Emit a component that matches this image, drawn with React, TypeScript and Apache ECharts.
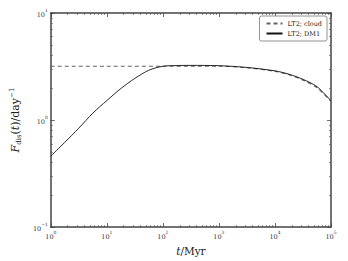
import React, { useEffect, useRef } from "react";
import * as echarts from "echarts";

const solidT = [1, 1.78, 3.16, 5.62, 10, 17.8, 31.6, 56.2, 100, 178, 316, 1000, 3162, 10000, 17783, 31623, 56234, 100000];
const solidF = [0.46, 0.62, 0.84, 1.16, 1.52, 1.97, 2.45, 2.92, 3.18, 3.23, 3.24, 3.22, 3.1, 2.88, 2.68, 2.4, 2.05, 1.51];
const dashedT = [1, 10, 100, 1000, 3162, 10000, 17783, 31623, 56234, 100000];
const dashedF = [3.18, 3.18, 3.18, 3.18, 3.08, 2.85, 2.65, 2.36, 2.0, 1.49];
const minorMult = [2, 3, 4, 5, 6, 7, 8, 9];
const xDecades = [0, 1, 2, 3, 4];
const yDecades = [-1, 0];
const minorX = xDecades.flatMap((d) => minorMult.map((m) => d + Math.log10(m)));
const minorY = yDecades.flatMap((d) => minorMult.map((m) => d + Math.log10(m)));

const FONT = "DejaVu Serif";
const AX = "#444";

const expFmt = (v: number) => {
  const e = Math.round(Math.log10(v));
  return `{b|10}{s|${e < 0 ? "−" + -e : e}}`;
};
const labelRich = {
  b: { fontFamily: FONT, fontSize: 6.5, color: "#333", lineHeight: 10, verticalAlign: "bottom" },
  s: { fontFamily: FONT, fontSize: 4.5, color: "#333", lineHeight: 10, verticalAlign: "top" },
};

export default function App() {
  const ref = useRef<HTMLDivElement>(null);
  useEffect(() => {
    const chart = echarts.init(ref.current!, null, { renderer: "svg" });
    const majorAxis = (extra: any) => ({
      type: "log",
      logBase: 10,
      axisLine: { show: true, onZero: false, lineStyle: { color: AX, width: 1.5 } },
      axisTick: { show: true, inside: true, length: 4, lineStyle: { color: AX, width: 0.8 } },
      splitLine: { show: false },
      ...extra,
    });
    const minorAxis = (vals: number[], extra: any) => ({
      type: "value",
      axisLine: { show: false, onZero: false },
      axisTick: { show: true, inside: true, length: 2, customValues: vals, lineStyle: { color: AX, width: 0.6 } },
      axisLabel: { show: false },
      splitLine: { show: false },
      ...extra,
    });
    chart.setOption({
      animation: false,
      grid: { left: 35, right: 17, top: 13, bottom: 27, containLabel: false },
      xAxis: [
        majorAxis({
          min: 1, max: 100000, position: "bottom",
          name: "{i|t}{n|/Myr}", nameLocation: "middle", nameGap: 15,
          nameTextStyle: { rich: { i: { fontFamily: FONT, fontStyle: "italic", fontSize: 10.5, color: "#222" }, n: { fontFamily: FONT, fontSize: 10.5, color: "#222" } } },
          axisLabel: { formatter: expFmt, rich: labelRich, margin: 3 },
        }),
        majorAxis({ min: 1, max: 100000, position: "top", axisLabel: { show: false } }),
        minorAxis(minorX, { min: 0, max: 5, position: "bottom" }),
        minorAxis(minorX, { min: 0, max: 5, position: "top" }),
      ],
      yAxis: [
        majorAxis({
          min: 0.1, max: 10, position: "left",
          name: "{i|F}{sub|dis}{n|(}{i|t}{n|)/day}{sup|−1}", nameLocation: "middle", nameGap: 21, nameRotate: 90,
          nameTextStyle: {
            rich: {
              i: { fontFamily: FONT, fontStyle: "italic", fontSize: 11, color: "#222", lineHeight: 14, verticalAlign: "middle" },
              n: { fontFamily: FONT, fontSize: 11, color: "#222", lineHeight: 14, verticalAlign: "middle" },
              sub: { fontFamily: FONT, fontSize: 7, color: "#222", lineHeight: 14, verticalAlign: "bottom" },
              sup: { fontFamily: FONT, fontSize: 7, color: "#222", lineHeight: 14, verticalAlign: "top" },
            },
          },
          axisLabel: { formatter: expFmt, rich: labelRich, margin: 3 },
        }),
        majorAxis({ min: 0.1, max: 10, position: "right", axisLabel: { show: false } }),
        minorAxis(minorY, { min: -1, max: 1, position: "left" }),
        minorAxis(minorY, { min: -1, max: 1, position: "right" }),
      ],
      legend: {
        right: 21, top: 16, orient: "vertical",
        itemWidth: 16, itemHeight: 8, itemGap: 3,
        padding: [4, 5, 4, 6],
        borderColor: "#777", borderWidth: 0.8, borderRadius: 2,
        backgroundColor: "#fff",
        itemStyle: { opacity: 0 },
        textStyle: { fontFamily: FONT, fontSize: 6.5, color: "#222" },
        data: ["LT2; cloud", "LT2; DM1"],
      },
      series: [
        {
          name: "LT2; cloud", type: "line", smooth: 0.3, symbol: "none", legendIcon: "none",
          data: dashedT.map((t, i) => [t, dashedF[i]]),
          lineStyle: { color: "#666", width: 1.1, type: [4, 3] },
          itemStyle: { color: "#666" },
        },
        {
          name: "LT2; DM1", type: "line", smooth: 0.3, symbol: "none", legendIcon: "none",
          data: solidT.map((t, i) => [t, solidF[i]]),
          lineStyle: { color: "#111", width: 0.9 },
          itemStyle: { color: "#111" },
        },
      ],
    });
    return () => chart.dispose();
  }, []);
  return <div ref={ref} style={{ width: 348, height: 261, position: "absolute", left: 0, top: 0 }} />;
}
